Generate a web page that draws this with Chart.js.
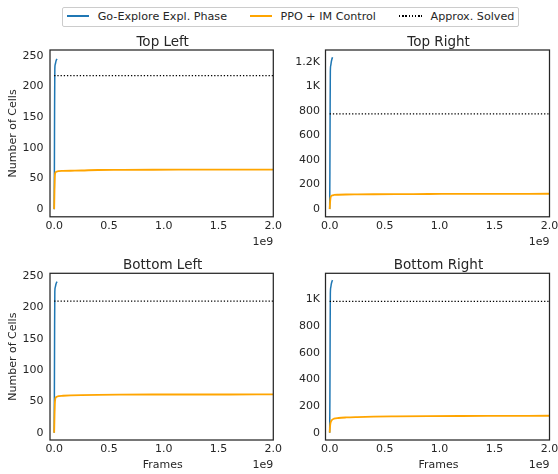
<!DOCTYPE html>
<html>
<head>
<meta charset="utf-8">
<script src="https://cdn.jsdelivr.net/npm/chart.js@4"></script>
<style>
html,body{margin:0;padding:0;background:#fff;}
#wrap{position:relative;width:558px;height:474px;overflow:hidden;background:#fff;}
#wrap canvas{position:absolute;left:0;top:0;}
#legend{position:absolute;left:62px;top:7px;width:455px;height:18px;border:1px solid #cccccc;border-radius:2px;background:#fff;z-index:5;}
.lt{position:absolute;font-family:"DejaVu Sans",sans-serif;font-size:11.17px;line-height:13px;color:#262626;white-space:nowrap;}
.ls{position:absolute;}
</style>
</head>
<body>
<div id="wrap">
  <canvas id="c0" width="600" height="474"></canvas>
  <canvas id="c1" width="600" height="474"></canvas>
  <canvas id="c2" width="600" height="474"></canvas>
  <canvas id="c3" width="600" height="474"></canvas>
  <div id="legend"></div>
</div>
<script>
// ---------- data ----------
const seriesNames = ['Go-Explore Expl. Phase', 'PPO + IM Control', 'Approx. Solved'];
const panelTitles = ['Top Left', 'Top Right', 'Bottom Left', 'Bottom Right'];

const frameTicks = [0, 0.5e9, 1.0e9, 1.5e9, 2.0e9];
const frameTickLabels = ['0.0', '0.5', '1.0', '1.5', '2.0'];

const cellTicksSmall = [0, 50, 100, 150, 200, 250];
const cellTickLabelsSmall = ['0', '50', '100', '150', '200', '250'];
const cellTicksLarge = [0, 200, 400, 600, 800, 1000, 1200];
const cellTickLabelsLarge = ['0', '200', '400', '600', '800', '1K', '1.2K'];

// Go-Explore exploration phase (frames)
const goFrames = [0, 0.002e9, 0.004e9, 0.006e9, 0.010e9, 0.015e9, 0.020e9, 0.026e9];
const goTopLeft     = [0, 60, 170, 228, 236, 240, 243, 245];
const goTopRight    = [0, 300, 800, 1120, 1170, 1200, 1220, 1236];
const goBottomLeft  = [0, 60, 165, 225, 232, 236, 239, 241];
const goBottomRight = [0, 250, 700, 1040, 1090, 1115, 1132, 1144];

// PPO + IM control (frames)
const ppoFrames = [0, 0.003e9, 0.006e9, 0.010e9, 0.020e9, 0.040e9, 0.080e9, 0.150e9, 0.250e9, 0.400e9, 0.600e9, 0.900e9, 1.200e9, 1.600e9, 2.000e9];
const ppoTopLeft     = [0, 30, 52, 59, 61, 62, 62.3, 62.6, 63, 63.8, 64, 64.2, 64.3, 64.4, 64.5];
const ppoTopRight    = [0, 45, 80, 100, 110, 115, 117, 119, 120, 121, 122, 123, 124, 124.5, 125];
const ppoBottomLeft  = [0, 25, 45, 54, 57, 58.5, 59, 59.5, 60, 60.5, 60.8, 61, 61, 61, 61.2];
const ppoBottomRight = [0, 40, 65, 80, 95, 105, 110, 114, 117, 120, 122, 124, 125, 126, 127];

// Approx. solved threshold
const solvedFrames = [0, 2.0e9];
const solvedValues = [217.5, 775, 210, 985];

// ---------- layout / style ----------
const TXT = '#262626';
const FONT = '"DejaVu Sans", sans-serif';
const CW = 600, CH = 474, YW = 40, XH = 20;
const COLORS = ['#1f77b4', '#FFA500', '#000000'];

const panels = [
  {id:'c0', title:panelTitles[0], go:goTopLeft, ppo:ppoTopLeft, solved:solvedValues[0],
   box:{l:50, t:50, r:273.3, b:216.8}, ymin:-12.5, ymax:259.4, yt:cellTicksSmall, yl:cellTickLabelsSmall,
   ypad:6.5, ylabel:true, xlabel:false},
  {id:'c1', title:panelTitles[1], go:goTopRight, ppo:ppoTopRight, solved:solvedValues[1],
   box:{l:325.5, t:50, r:549.5, b:216.8}, ymin:-62.6, ymax:1295, yt:cellTicksLarge, yl:cellTickLabelsLarge,
   ypad:5.5, ylabel:false, xlabel:false},
  {id:'c2', title:panelTitles[2], go:goBottomLeft, ppo:ppoBottomLeft, solved:solvedValues[2],
   box:{l:50, t:273.3, r:273.3, b:440}, ymin:-11.6, ymax:254.3, yt:cellTicksSmall, yl:cellTickLabelsSmall,
   ypad:6.5, ylabel:true, xlabel:true},
  {id:'c3', title:panelTitles[3], go:goBottomRight, ppo:ppoBottomRight, solved:solvedValues[3],
   box:{l:325.5, t:273.3, r:549.5, b:440}, ymin:-55, ymax:1195, yt:cellTicksLarge, yl:cellTickLabelsLarge,
   ypad:5.5, ylabel:false, xlabel:true}
];

const panelText = {
  id: 'panelText',
  afterDraw(chart, args, opts) {
    const ctx = chart.ctx, a = chart.chartArea;
    ctx.save();
    // frame (all four spines)
    ctx.strokeStyle = TXT;
    ctx.lineWidth = 1.25;
    ctx.strokeRect(a.left, a.top, a.right - a.left, a.bottom - a.top);
    ctx.fillStyle = TXT;
    // title
    ctx.font = '13.5px ' + FONT;
    ctx.textAlign = 'center';
    ctx.textBaseline = 'alphabetic';
    ctx.fillText(opts.title, (a.left + a.right) / 2 + 1, a.top - 4.5);
    // offset text
    ctx.font = '11px ' + FONT;
    ctx.textAlign = 'right';
    ctx.fillText('1e9', a.right, a.bottom + 28.3);
    if (opts.xlabel) {
      ctx.textAlign = 'center';
      ctx.fillText('Frames', (a.left + a.right) / 2 + 1, a.bottom + 28.3);
    }
    if (opts.ylabel) {
      ctx.translate(13.3, (a.top + a.bottom) / 2);
      ctx.rotate(-Math.PI / 2);
      ctx.textAlign = 'center';
      ctx.textBaseline = 'middle';
      ctx.fillText('Number of Cells', 0, 0);
    }
    ctx.restore();
  }
};

function makeChart(p) {
  const pts = (xs, ys) => xs.map((x, i) => ({x: x, y: ys[i]}));
  new Chart(document.getElementById(p.id), {
    type: 'line',
    data: {
      datasets: [
        {label: seriesNames[2], data: pts(solvedFrames, [p.solved, p.solved]),
         borderColor: COLORS[2], borderWidth: 1.3, borderDash: [1.3, 1.9], pointRadius: 0, fill: false},
        {label: seriesNames[1], data: pts(ppoFrames, p.ppo),
         borderColor: COLORS[1], borderWidth: 1.8, pointRadius: 0, fill: false, cubicInterpolationMode: 'monotone'},
        {label: seriesNames[0], data: pts(goFrames, p.go),
         borderColor: COLORS[0], borderWidth: 1.5, pointRadius: 0, fill: false, cubicInterpolationMode: 'monotone'}
      ]
    },
    options: {
      responsive: false,
      animation: false,
      events: [],
      layout: {padding: {left: p.box.l - YW, top: p.box.t, right: CW - p.box.r, bottom: CH - p.box.b - XH}},
      plugins: {
        legend: {display: false},
        tooltip: {enabled: false},
        panelText: {title: p.title, xlabel: p.xlabel, ylabel: p.ylabel}
      },
      scales: {
        x: {
          type: 'linear', min: -0.038e9, max: 2.0e9,
          grid: {display: false, drawTicks: false}, border: {display: false},
          afterBuildTicks: s => { s.ticks = frameTicks.map(v => ({value: v})); },
          afterFit: s => { s.height = XH; s.paddingLeft = 0; s.paddingRight = 0; },
          ticks: {autoSkip: false, maxRotation: 0, minRotation: 0, padding: 3, color: TXT,
                  font: {family: FONT, size: 11},
                  callback: v => frameTickLabels[frameTicks.indexOf(v)]}
        },
        y: {
          type: 'linear', min: p.ymin, max: p.ymax,
          grid: {display: false, drawTicks: false}, border: {display: false},
          afterBuildTicks: s => { s.ticks = p.yt.filter(v => v >= p.ymin && v <= p.ymax).map(v => ({value: v})); },
          afterFit: s => { s.width = YW; s.paddingTop = 0; s.paddingBottom = 0; },
          ticks: {autoSkip: false, padding: p.ypad, color: TXT,
                  font: {family: FONT, size: 11},
                  callback: v => p.yl[p.yt.indexOf(v)]}
        }
      }
    },
    plugins: [panelText]
  });
}
panels.forEach(makeChart);

// ---------- legend (HTML) ----------
const lg = document.getElementById('legend');
const items = [
  {name: seriesNames[0], color: COLORS[0], dotted: false, s0: 66.7, s1: 89.3, tx: 97.7},
  {name: seriesNames[1], color: COLORS[1], dotted: false, s0: 249.5, s1: 272, tx: 280.5},
  {name: seriesNames[2], color: COLORS[2], dotted: true, s0: 399, s1: 421.5, tx: 430.5}
];
items.forEach(it => {
  const s = document.createElement('div');
  s.className = 'ls';
  s.style.left = (it.s0 - 63) + 'px';
  s.style.width = (it.s1 - it.s0) + 'px';
  s.style.top = (15 - 8) + 'px';
  s.style.height = '1.5px';
  s.style.background = it.dotted
    ? 'repeating-linear-gradient(to right, ' + it.color + ' 0px, ' + it.color + ' 1.3px, transparent 1.3px, transparent 3.2px)'
    : it.color;
  lg.appendChild(s);
  const t = document.createElement('div');
  t.className = 'lt';
  t.textContent = it.name;
  t.style.left = (it.tx - 63) + 'px';
  t.style.top = (10.4 - 8) + 'px';
  lg.appendChild(t);
});
</script>
</body>
</html>
